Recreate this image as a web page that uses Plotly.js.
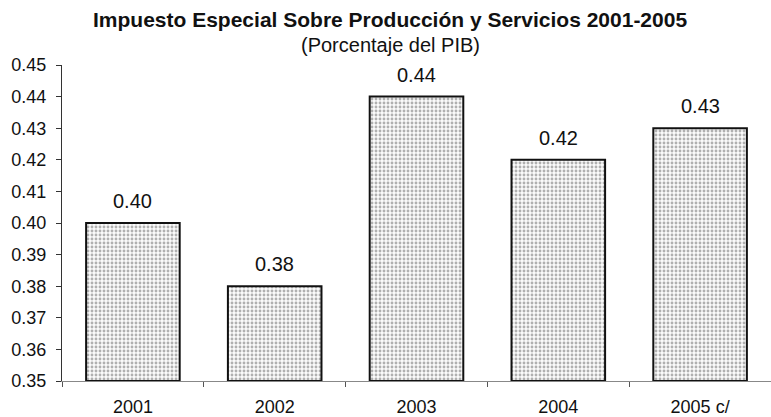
<!DOCTYPE html>
<html>
<head>
<meta charset="utf-8">
<script src="https://cdn.plot.ly/plotly-3.0.1.min.js"></script>
<style>
  html, body { margin: 0; padding: 0; background: #fff; }
  #plot { width: 771px; height: 417px; }
</style>
</head>
<body>
<div id="plot"></div>
<script>
// IEPS como porcentaje del PIB
const years = ['2001', '2002', '2003', '2004', '2005 c/'];
const values = [0.40, 0.38, 0.44, 0.42, 0.43];
const yTicks = [0.35, 0.36, 0.37, 0.38, 0.39, 0.40, 0.41, 0.42, 0.43, 0.44, 0.45];
const yBase = 0.35;

const font = 'Liberation Sans, Arial, sans-serif';

const trace = {
  type: 'bar',
  x: years,
  y: values.map(v => v - yBase),
  base: yBase,
  width: 0.66,
  marker: {
    color: '#ffffff',
    line: { color: '#111', width: 2 },
    pattern: { shape: '.', fgcolor: '#b0b0b0', bgcolor: '#fbfbfb', size: 4, solidity: 0.4 }
  },
  hoverinfo: 'skip'
};

// value labels above the bars (category index, numeric-looking names would be read as indices)
const labels = years.map((yr, i) => ({
  x: i, y: values[i], xref: 'x', yref: 'y',
  text: values[i].toFixed(2),
  showarrow: false, yanchor: 'bottom', yshift: 9,
  font: { size: 20, family: font, color: '#111' }
}));

const layout = {
  width: 771,
  height: 417,
  margin: { l: 62, r: 0, t: 65, b: 36 },
  paper_bgcolor: '#fff',
  plot_bgcolor: '#fff',
  showlegend: false,
  font: { family: font, color: '#111' },
  xaxis: {
    type: 'category',
    range: [-0.5, 4.5],
    showline: true,
    linecolor: '#888',
    linewidth: 1,
    ticks: 'outside',
    tickson: 'boundaries',
    ticklen: 5,
    tickcolor: '#555',
    tickfont: { size: 18, family: font },
    ticklabelstandoff: 9,
    showgrid: false,
    zeroline: false
  },
  yaxis: {
    range: [0.35, 0.45],
    tickvals: yTicks,
    ticktext: yTicks.map(v => v.toFixed(2)),
    showline: true,
    linecolor: '#333',
    linewidth: 1,
    ticks: 'outside',
    ticklen: 5,
    tickcolor: '#333',
    tickfont: { size: 18, family: font },
    ticklabelstandoff: 6,
    showgrid: false,
    zeroline: false
  },
  annotations: labels.concat([
    {
      text: '<b>Impuesto Especial Sobre Producción y Servicios 2001-2005</b>',
      xref: 'paper', yref: 'paper', x: 0.463, y: 1, yshift: 46,
      xanchor: 'center', yanchor: 'middle', showarrow: false,
      font: { size: 21, family: font, color: '#111' }
    },
    {
      text: '(Porcentaje del PIB)',
      xref: 'paper', yref: 'paper', x: 0.463, y: 1, yshift: 20,
      xanchor: 'center', yanchor: 'middle', showarrow: false,
      font: { size: 20, family: font, color: '#111' }
    }
  ])
};

Plotly.newPlot('plot', [trace], layout, { displayModeBar: false, staticPlot: true });
</script>
</body>
</html>
